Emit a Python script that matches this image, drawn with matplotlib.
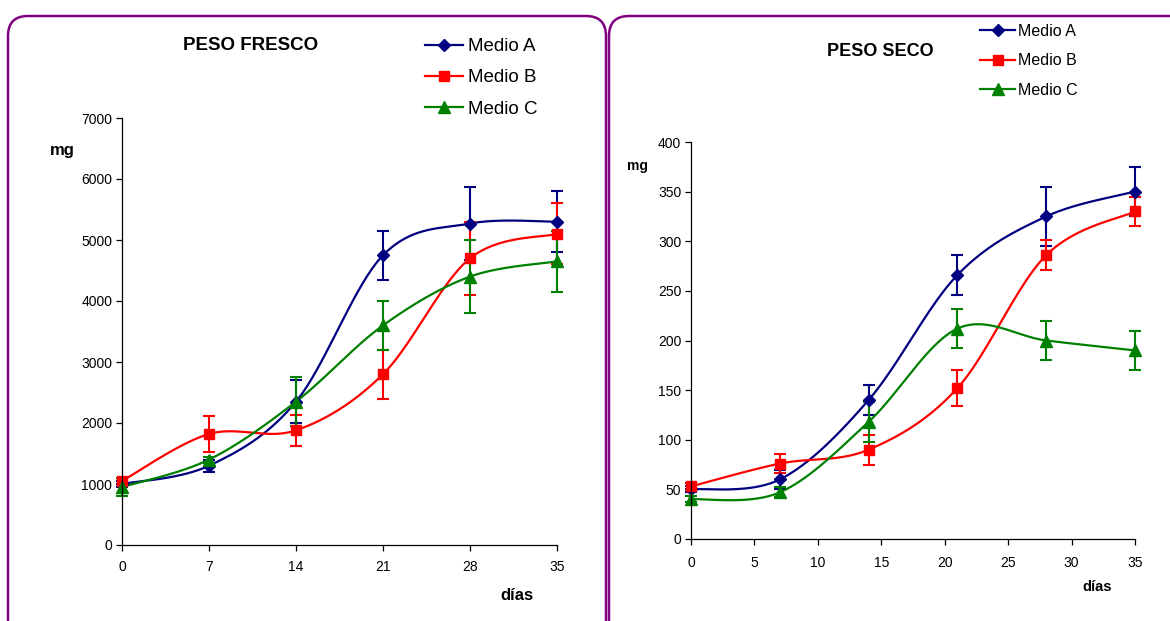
import numpy as np
import matplotlib
matplotlib.use("Agg")
import matplotlib.pyplot as plt
from matplotlib.patches import FancyBboxPatch
from matplotlib.lines import Line2D

plt.rcParams['font.family'] = ['Liberation Sans', 'DejaVu Sans']

# ---------------- data ----------------
dias = [0, 7, 14, 21, 28, 35]
series = ["Medio A", "Medio B", "Medio C"]

fresco_A = [1000, 1300, 2350, 4750, 5270, 5300]
fresco_A_err = [50, 100, 350, 400, 600, 500]
fresco_B = [1050, 1820, 1880, 2800, 4700, 5100]
fresco_B_err = [50, 300, 250, 400, 600, 500]
fresco_C = [950, 1400, 2350, 3600, 4400, 4650]
fresco_C_err = [150, 50, 400, 400, 600, 500]

seco_A = [50, 60, 140, 266, 325, 350]
seco_A_err = [3, 10, 15, 20, 30, 25]
seco_B = [53, 76, 90, 152, 286, 330]
seco_B_err = [3, 10, 15, 18, 15, 15]
seco_C = [40, 47, 118, 212, 200, 190]
seco_C_err = [3, 5, 20, 20, 20, 20]

fresco_xticks = [0, 7, 14, 21, 28, 35]
fresco_yticks = [0, 1000, 2000, 3000, 4000, 5000, 6000, 7000]
seco_xticks = [0, 5, 10, 15, 20, 25, 30, 35]
seco_yticks = [0, 50, 100, 150, 200, 250, 300, 350, 400]

colors = ["#000080", "#FF0000", "#008000"]
markers = ["D", "s", "^"]
msizes = [6.5, 7.5, 8]


def smooth(x, y, n=40):
    """Excel-style smoothed line (Catmull-Rom Bezier)."""
    pts = np.column_stack([x, y]).astype(float)
    P = np.vstack([pts[0], pts, pts[-1]])
    t = np.linspace(0, 1, n)[:, None]
    out = []
    for i in range(len(pts) - 1):
        p0, p1, p2, p3 = P[i], P[i + 1], P[i + 2], P[i + 3]
        c1 = p1 + (p2 - p0) / 6
        c2 = p2 - (p3 - p1) / 6
        seg = ((1 - t) ** 3) * p1 + 3 * ((1 - t) ** 2) * t * c1 + 3 * (1 - t) * t ** 2 * c2 + t ** 3 * p2
        out.append(seg if i == 0 else seg[1:])
    s = np.vstack(out)
    return s[:, 0], s[:, 1]


W, H = 1170, 621
fig = plt.figure(figsize=(W / 100, H / 100), dpi=100)

# background axes in pixel coordinates for frames and free text
bg = fig.add_axes([0, 0, 1, 1], zorder=-1)
bg.set_xlim(0, W)
bg.set_ylim(H, 0)
bg.axis('off')
for (x0, w) in [(8, 598), (609, 620)]:
    bg.add_patch(FancyBboxPatch((x0, 16), w, 660, boxstyle="round,pad=0,rounding_size=20",
                                ec="#800080", fc="none", lw=1.8))


def panel(rect, data, xticks, yticks, tick_fs, capsize, xpad):
    ax = fig.add_axes(rect)
    for (y, e), c, m, ms in zip(data, colors, markers, msizes):
        sx, sy = smooth(dias, y)
        ax.plot(sx, sy, color=c, lw=1.6, solid_capstyle='round', clip_on=False)
        ax.errorbar(dias, y, yerr=e, fmt=m, color=c, ms=ms, capsize=capsize,
                    elinewidth=1.5, capthick=1.5, clip_on=False)
    ax.set_xlim(xticks[0], xticks[-1])
    ax.set_ylim(yticks[0], yticks[-1])
    ax.set_xticks(xticks)
    ax.set_yticks(yticks)
    for s in ['top', 'right']:
        ax.spines[s].set_visible(False)
    for s in ['left', 'bottom']:
        ax.spines[s].set_linewidth(0.9)
    ax.tick_params(direction='out', length=4, width=0.9, labelsize=tick_fs)
    ax.tick_params(axis='x', pad=xpad)
    ax.tick_params(axis='y', pad=3)
    ax.patch.set_alpha(0)
    return ax


ax1 = panel([122 / W, 1 - 545 / H, 435 / W, 427 / H],
            [(fresco_A, fresco_A_err), (fresco_B, fresco_B_err), (fresco_C, fresco_C_err)],
            fresco_xticks, fresco_yticks, 10, 4.5, 7)
ax2 = panel([691 / W, 1 - 539 / H, 444 / W, 397 / H],
            [(seco_A, seco_A_err), (seco_B, seco_B_err), (seco_C, seco_C_err)],
            seco_xticks, seco_yticks, 10, 4.5, 8.5)

handles = [Line2D([], [], color=c, marker=m, ms=ms, lw=1.6) for c, m, ms in zip(colors, markers, msizes)]

fig.legend(handles, series, loc='upper left', bbox_to_anchor=(425, 38),
           bbox_transform=bg.transData, frameon=False, fontsize=13.5,
           borderpad=0, borderaxespad=0, handlelength=2.0, handletextpad=0.28,
           labelspacing=0.75)
fig.legend(handles, series, loc='upper left', bbox_to_anchor=(980, 24),
           bbox_transform=bg.transData, frameon=False, fontsize=11.5,
           borderpad=0, borderaxespad=0, handlelength=2.2, handletextpad=0.2,
           labelspacing=0.9)

bg.text(251, 45, "PESO FRESCO", ha='center', va='center', fontsize=13.5, fontweight='bold')
bg.text(880, 52, "PESO SECO", ha='center', va='center', fontsize=13, fontweight='bold')
bg.text(62, 150, "mg", ha='center', va='center', fontsize=12, fontweight='bold')
bg.text(638, 166, "mg", ha='center', va='center', fontsize=10, fontweight='bold')
bg.text(517, 596, "días", ha='center', va='center', fontsize=12, fontweight='bold')
bg.text(1097, 587, "días", ha='center', va='center', fontsize=10.5, fontweight='bold')

fig.savefig("out.png", dpi=100)
